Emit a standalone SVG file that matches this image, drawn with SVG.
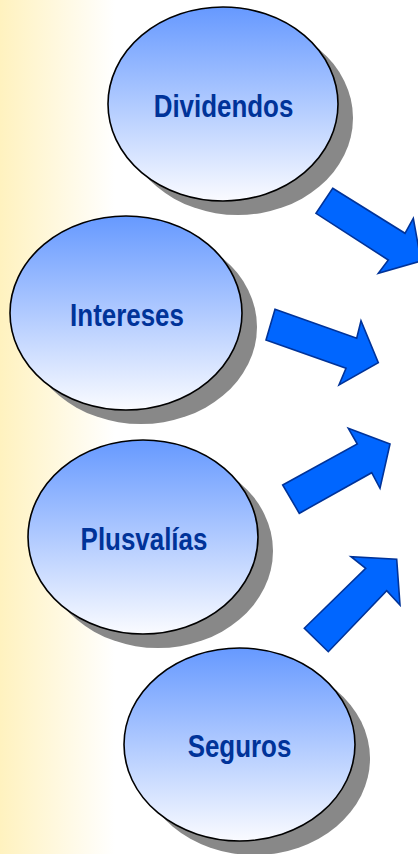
<svg xmlns="http://www.w3.org/2000/svg" width="418" height="854" viewBox="0 0 418 854">
<defs>
<linearGradient id="bg" x1="0" y1="0" x2="1" y2="0">
<stop offset="0" stop-color="#FFF2BF"/>
<stop offset="1" stop-color="#FFFFFF"/>
</linearGradient>
<linearGradient id="ball" x1="0" y1="0" x2="0" y2="1">
<stop offset="0" stop-color="#6699FF"/>
<stop offset="1" stop-color="#FAFBFF"/>
</linearGradient>
<style>
.shadow{fill:#888888}
.ball{fill:url(#ball);stroke:#000000;stroke-width:1.6}
.lbl{font-family:"Liberation Sans",Arial,sans-serif;font-weight:bold;font-size:32px;fill:#003399;text-anchor:middle}
.arrow{fill:#0066FF;stroke:#003399;stroke-width:1.6;stroke-linejoin:miter}
</style>
</defs>
<rect x="0" y="0" width="418" height="854" fill="#FFFFFF"/>
<rect x="0" y="0" width="115" height="854" fill="url(#bg)"/>
<g id="connectors">
<polygon class="arrow" points="332.7,188.3 405,233.3 413.3,218.3 421,261 378.3,273.3 388.3,260 316,213.3"/>
<polygon class="arrow" points="275,309.3 356.7,338.3 361,320.7 378.3,362.7 339,385 346,368.3 266,340"/>
<polygon class="arrow" points="282.7,485 357.3,444 348.3,428.3 390,444 380,488.3 371.7,472.7 299.3,513.3"/>
<polygon class="arrow" points="304.3,628.3 365.7,568.3 351,556.7 396.7,559.3 400,605 386.7,590.7 328.3,651.7"/>
</g>
<g id="dividendos">
<ellipse class="shadow" cx="238" cy="118" rx="115" ry="97"/>
<ellipse class="ball" cx="223" cy="104" rx="115" ry="97"/>
<text class="lbl" transform="translate(223.5,117) scale(0.81,1)">Dividendos</text>
</g>
<g id="intereses">
<ellipse class="shadow" cx="141" cy="327" rx="116" ry="97"/>
<ellipse class="ball" cx="126" cy="313" rx="116" ry="97"/>
<text class="lbl" transform="translate(127,326) scale(0.81,1)">Intereses</text>
</g>
<g id="plusvalias">
<ellipse class="shadow" cx="158" cy="551" rx="115" ry="97"/>
<ellipse class="ball" cx="143" cy="537" rx="115" ry="97"/>
<text class="lbl" transform="translate(144,550) scale(0.81,1)">Plusvalías</text>
</g>
<g id="seguros">
<ellipse class="shadow" cx="254.5" cy="758.5" rx="115.5" ry="96.5"/>
<ellipse class="ball" cx="239.5" cy="744.5" rx="115.5" ry="96.5"/>
<text class="lbl" transform="translate(239.5,757) scale(0.81,1)">Seguros</text>
</g>
</svg>
